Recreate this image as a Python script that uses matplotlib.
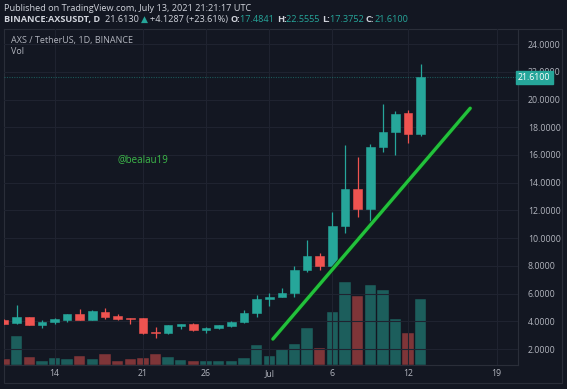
import matplotlib.pyplot as plt
import numpy as np
import pandas as pd

BG = '#131722'
GRID = '#1f2330'
FRAME = '#2a2e39'
UP = '#26a69a'
DOWN = '#ef5350'
UP_VOL = '#1c5e5c'
DOWN_VOL = '#7e3538'
TEXT = '#b2b5be'
TREND = '#22c13c'

plt.rcParams['font.family'] = ['Open Sans', 'DejaVu Sans']

# daily candles, 2021-06-10 .. 2021-07-13
dates = pd.date_range('2021-06-10', '2021-07-13', freq='D')
opens = [4.09, 3.85, 4.29, 3.71, 3.93, 4.11, 4.50, 4.11, 4.69, 4.36, 4.24,
         4.21, 3.21, 3.13, 3.68, 3.83, 3.37, 3.54, 3.66, 3.93, 4.58,
         5.61, 5.73, 6.06, 7.68, 8.71, 7.99, 10.90, 13.57, 12.08, 16.55,
         17.68, 19.00, 17.4841]
highs = [4.15, 5.17, 4.34, 4.06, 4.27, 4.56, 4.86, 4.78, 4.98, 4.49, 4.27,
         4.25, 3.61, 3.75, 3.84, 3.86, 3.57, 3.75, 4.02, 4.81, 5.90,
         6.02, 6.38, 7.99, 9.86, 8.95, 11.86, 16.72, 15.83, 16.77, 19.65,
         19.17, 19.24, 22.5555]
lows = [3.80, 3.82, 3.70, 3.54, 3.78, 3.97, 4.06, 4.09, 4.16, 4.06, 3.80,
        3.08, 2.77, 3.05, 3.44, 3.33, 3.18, 3.44, 3.62, 3.89, 4.33,
        5.10, 5.72, 5.77, 7.53, 7.70, 7.85, 10.39, 11.55, 11.24, 16.24,
        16.00, 16.84, 17.3752]
closes = [3.84, 4.29, 3.73, 3.97, 4.19, 4.53, 4.09, 4.72, 4.31, 4.16, 4.13,
          3.13, 3.15, 3.71, 3.80, 3.37, 3.54, 3.71, 3.95, 4.58, 5.61,
          5.73, 6.06, 7.70, 8.71, 7.99, 10.90, 13.57, 12.08, 16.55, 17.66,
          18.93, 17.49, 21.61]
# volume, millions (approx)
volumes = [0.63, 2.93, 0.77, 0.43, 0.70, 0.63, 0.90, 0.57, 1.10, 0.37, 0.57,
           0.70, 1.10, 0.77, 0.50, 0.43, 0.40, 0.37, 0.43, 0.70, 1.97,
           0.95, 1.63, 2.07, 3.67, 1.70, 5.27, 8.33, 6.90, 8.00, 7.50,
           4.63, 3.20, 6.60]

price_ticks = [2, 4, 6, 8, 10, 12, 14, 16, 18, 20, 22, 24]
date_ticks = ['2021-06-14', '2021-06-21', '2021-06-26', '2021-07-01',
              '2021-07-06', '2021-07-12', '2021-07-19']
date_labels = ['14', '21', '26', 'Jul', '6', '12', '19']
last_price = 21.61
trend_dates = ['2021-07-01 07:00', '2021-07-16 22:00']
trend_prices = [2.72, 19.37]

W, H = 567, 389
fig = plt.figure(figsize=(W / 100, H / 100), dpi=100, facecolor=BG)

L, R, T, B = 4, 518, 29, 365
ax = fig.add_axes([L / W, 1 - B / H, (R - L) / W, (B - T) / H])
ax.set_facecolor(BG)
axv = ax.twinx()
ax.set_zorder(axv.get_zorder() + 1)
ax.patch.set_visible(False)
axv.set_facecolor(BG)

x = np.arange(len(dates))
o, h, l, c = map(np.array, (opens, highs, lows, closes))
up = c >= o
cols = np.where(up, UP, DOWN)

# volume pane
axv.bar(x, volumes, width=0.9, color=np.where(up, UP_VOL, DOWN_VOL),
        edgecolor=BG, lw=0.3, zorder=2)
axv.set_ylim(0, 33.6)
axv.set_yticks([])

# candles
ax.vlines(x, l, h, colors=cols, lw=0.9, zorder=3)
ax.bar(x, np.abs(c - o), bottom=np.minimum(o, c), width=0.68, color=cols,
       edgecolor=cols, lw=0.4, zorder=4)

ax.axhline(last_price, color=UP, lw=0.8, ls=(0, (1, 1.2)), alpha=0.45, zorder=2)

# trend line
pos = {d: i for i, d in enumerate(dates)}
tx = [(pd.Timestamp(d) - dates[0]) / pd.Timedelta('1D') for d in trend_dates]
ax.plot(tx, trend_prices, color='#0d2a16', lw=3.4, solid_capstyle='round', zorder=5)
ax.plot(tx, trend_prices, color=TREND, lw=2.4, solid_capstyle='round', zorder=6)

ax.set_xlim(0.0, 40.7)
ax.set_ylim(0.846, 25.09)
xt = [(pd.Timestamp(d) - dates[0]) / pd.Timedelta('1D') for d in date_ticks]
ax.set_xticks(xt)
ax.set_xticklabels(date_labels)
ax.set_yticks(price_ticks)
ax.set_yticklabels([f'{p:.4f}' for p in price_ticks])
ax.yaxis.tick_right()
ax.tick_params(axis='both', length=0, colors=TEXT, labelsize=6.3)
ax.tick_params(axis='y', pad=7)
ax.tick_params(axis='x', pad=3)
for lab in ax.get_yticklabels():
    lab.set_horizontalalignment('left')
ax.grid(True, color=GRID, lw=0.8, zorder=0)
axv.set_axisbelow(True)
for a in (ax, axv):
    for s in a.spines.values():
        s.set_visible(False)
ax.spines['bottom'].set_visible(True)
ax.spines['bottom'].set_color(FRAME)
ax.spines['right'].set_visible(True)
ax.spines['right'].set_color(FRAME)

# last price tag
ax.text(1.0, last_price, '21.6100', transform=ax.get_yaxis_transform(),
        ha='left', va='center', fontsize=6.3, color='white', zorder=10,
        clip_on=False,
        bbox=dict(boxstyle='square,pad=0.25', fc=UP, ec=UP))

# pane legends and watermark
ax.text(7 / (R - L), 1 - 11 / (B - T), 'AXS / TetherUS, 1D, BINANCE',
        transform=ax.transAxes, fontsize=6.5, color=TEXT, va='center')
ax.text(7 / (R - L), 1 - 23 / (B - T), 'Vol', transform=ax.transAxes,
        fontsize=6.5, color=TEXT, va='center')
ax.text(0.22, 0.61, '@bealau19', transform=ax.transAxes, fontsize=7,
        color='#3dbb4a', va='center', ha='left')

# outer frame
over = fig.add_axes([0, 0, 1, 1], zorder=-1)
over.set_xlim(0, W)
over.set_ylim(H, 0)
over.axis('off')
over.plot([L, 562, 562, L, L], [T, T, 383, 383, T], color=FRAME, lw=0.8)

top = fig.add_axes([0, 0, 1, 1], zorder=20)
top.set_xlim(0, W)
top.set_ylim(H, 0)
top.axis('off')
top.text(4, 8, 'Published on TradingView.com, July 13, 2021 21:21:17 UTC',
         fontsize=6.6, color='#d1d4dc', va='center')

parts = [('BINANCE:AXSUSDT, D  ', '#d1d4dc', 'bold'),
         ('21.6130 ', '#d1d4dc', 'normal'),
         ('\u25b2 ', UP, 'normal'),
         ('+4.1287 (+23.61%) ', '#d1d4dc', 'normal'),
         ('O:', '#d1d4dc', 'bold'), ('17.4841 ', UP, 'normal'),
         ('H:', '#d1d4dc', 'bold'), ('22.5555 ', UP, 'normal'),
         ('L:', '#d1d4dc', 'bold'), ('17.3752 ', UP, 'normal'),
         ('C:', '#d1d4dc', 'bold'), ('21.6100', UP, 'normal')]
prev = top.text(4, 19, parts[0][0], fontsize=6.6, color=parts[0][1],
                fontweight=parts[0][2], va='center')
for txt, col, fw in parts[1:]:
    prev = top.annotate(txt, xy=(1, 0.5), xycoords=prev, va='center',
                        fontsize=6.6, color=col, fontweight=fw)

fig.savefig('out.png', dpi=100, facecolor=BG)
